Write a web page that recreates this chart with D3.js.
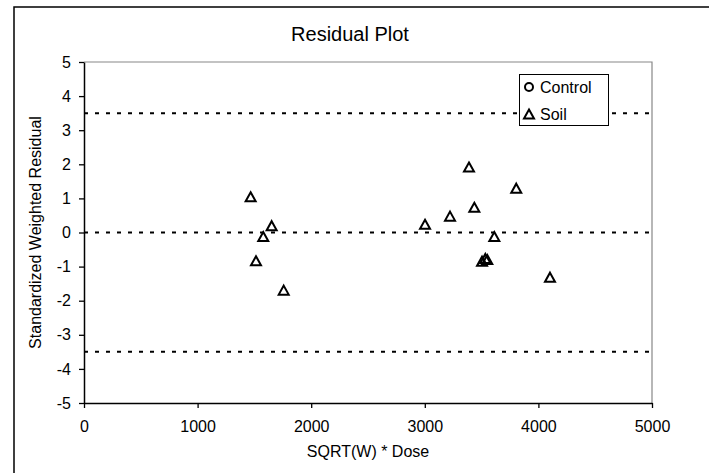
<!DOCTYPE html>
<html>
<head>
<meta charset="utf-8">
<script src="https://cdn.jsdelivr.net/npm/d3@7"></script>
<style>
  body { margin: 0; background: #fff; }
  text { font-family: "Liberation Sans", Arial, sans-serif; fill: #000; }
</style>
</head>
<body>
<svg class="chart" width="709" height="473"></svg>
<script>
// data
var soilX = [1467, 1514, 1578, 1652, 1758, 3002, 3222, 3389, 3436, 3504, 3533, 3550, 3612, 3805, 4102];
var soilY = [1.05, -0.83, -0.12, 0.2, -1.69, 0.24, 0.48, 1.92, 0.74, -0.84, -0.76, -0.79, -0.12, 1.30, -1.31];
var controlX = [];
var controlY = [];
var refLines = [3.5, 0, -3.5];
var xTicks = [0, 1000, 2000, 3000, 4000, 5000];
var yTicks = [-5, -4, -3, -2, -1, 0, 1, 2, 3, 4, 5];

var svg = d3.select(".chart");

// plot area edges (note: "top" is reserved on window)
var plotL = 84, plotR = 652, plotT = 62, plotB = 403;

var x = d3.scaleLinear().domain([0, 5000]).range([plotL, plotR]);
var y = d3.scaleLinear().domain([-5, 5]).range([plotB, plotT]);

// outer chart frame
svg.append("rect")
  .attr("x", 14)
  .attr("y", 7)
  .attr("width", 760)
  .attr("height", 520)
  .attr("fill", "none")
  .attr("stroke", "#000")
  .attr("stroke-width", 1.5);

// plot area border (top/right grey)
svg.append("path")
  .attr("d", "M" + plotL + "," + plotT + "H" + plotR + "V" + plotB)
  .attr("fill", "none")
  .attr("stroke", "#888")
  .attr("stroke-width", 1.2);

// dotted reference lines
svg.selectAll(".ref")
  .data(refLines)
  .enter()
  .append("line")
  .attr("class", "ref")
  .attr("x1", plotL)
  .attr("x2", plotR)
  .attr("y1", function(d) { return y(d); })
  .attr("y2", function(d) { return y(d); })
  .attr("stroke", "#000")
  .attr("stroke-width", 2)
  .attr("stroke-dasharray", "4,7");

var xAxis = svg.append("g")
  .attr("transform", "translate(0," + plotB + ")")
  .call(d3.axisBottom(x).tickValues(xTicks).tickSize(5).tickPadding(13).tickSizeOuter(0)
    .tickFormat(d3.format("d")));

var yAxis = svg.append("g")
  .attr("transform", "translate(" + plotL + ",0)")
  .call(d3.axisLeft(y).tickValues(yTicks).tickSize(5).tickPadding(8).tickSizeOuter(0)
    .tickFormat(function(d) { return d < 0 ? "-" + Math.abs(d) : d; }));

[xAxis, yAxis].forEach(function(g) {
  g.selectAll("text")
    .attr("font-size", 16)
    .attr("font-family", "Liberation Sans, Arial, sans-serif")
    .attr("fill", "#000");
  g.selectAll("line").attr("stroke", "#000").attr("stroke-width", 1.3);
  g.select(".domain").attr("stroke", "#000").attr("stroke-width", 1.5);
});

// title + axis titles
svg.append("text")
  .attr("x", 350)
  .attr("y", 41)
  .attr("text-anchor", "middle")
  .attr("font-size", 20)
  .text("Residual Plot");

svg.append("text")
  .attr("x", (plotL + plotR) / 2)
  .attr("y", 457)
  .attr("text-anchor", "middle")
  .attr("font-size", 16)
  .text("SQRT(W) * Dose");

svg.append("text")
  .attr("transform", "translate(41," + (plotT + plotB) / 2 + ") rotate(-90)")
  .attr("text-anchor", "middle")
  .attr("font-size", 16)
  .text("Standardized Weighted Residual");

var triangle = "M0,-4.5L5,4.5L-5,4.5Z";

// control points (none visible)
svg.selectAll(".ctrl")
  .data(controlX)
  .enter()
  .append("circle")
  .attr("class", "ctrl")
  .attr("cx", function(d) { return x(d); })
  .attr("cy", function(d, i) { return y(controlY[i]); })
  .attr("r", 4)
  .attr("fill", "none")
  .attr("stroke", "#000")
  .attr("stroke-width", 2);

svg.selectAll(".soil")
  .data(soilX)
  .enter()
  .append("path")
  .attr("class", "soil")
  .attr("d", triangle)
  .attr("transform", function(d, i) {
    return "translate(" + x(d) + "," + y(soilY[i]) + ")";
  })
  .attr("fill", "none")
  .attr("stroke", "#000")
  .attr("stroke-width", 2);

// legend
var legend = svg.append("g");
legend.append("rect")
  .attr("x", 519.5)
  .attr("y", 74.5)
  .attr("width", 89)
  .attr("height", 51)
  .attr("fill", "#fff")
  .attr("stroke", "#000")
  .attr("stroke-width", 1);

legend.append("circle")
  .attr("cx", 529)
  .attr("cy", 87)
  .attr("r", 4)
  .attr("fill", "none")
  .attr("stroke", "#000")
  .attr("stroke-width", 2);
legend.append("text")
  .attr("x", 540)
  .attr("y", 93)
  .attr("font-size", 16)
  .text("Control");

legend.append("path")
  .attr("d", triangle)
  .attr("transform", "translate(529,114)")
  .attr("fill", "none")
  .attr("stroke", "#000")
  .attr("stroke-width", 2);
legend.append("text")
  .attr("x", 540)
  .attr("y", 120)
  .attr("font-size", 16)
  .text("Soil");
</script>
</body>
</html>
